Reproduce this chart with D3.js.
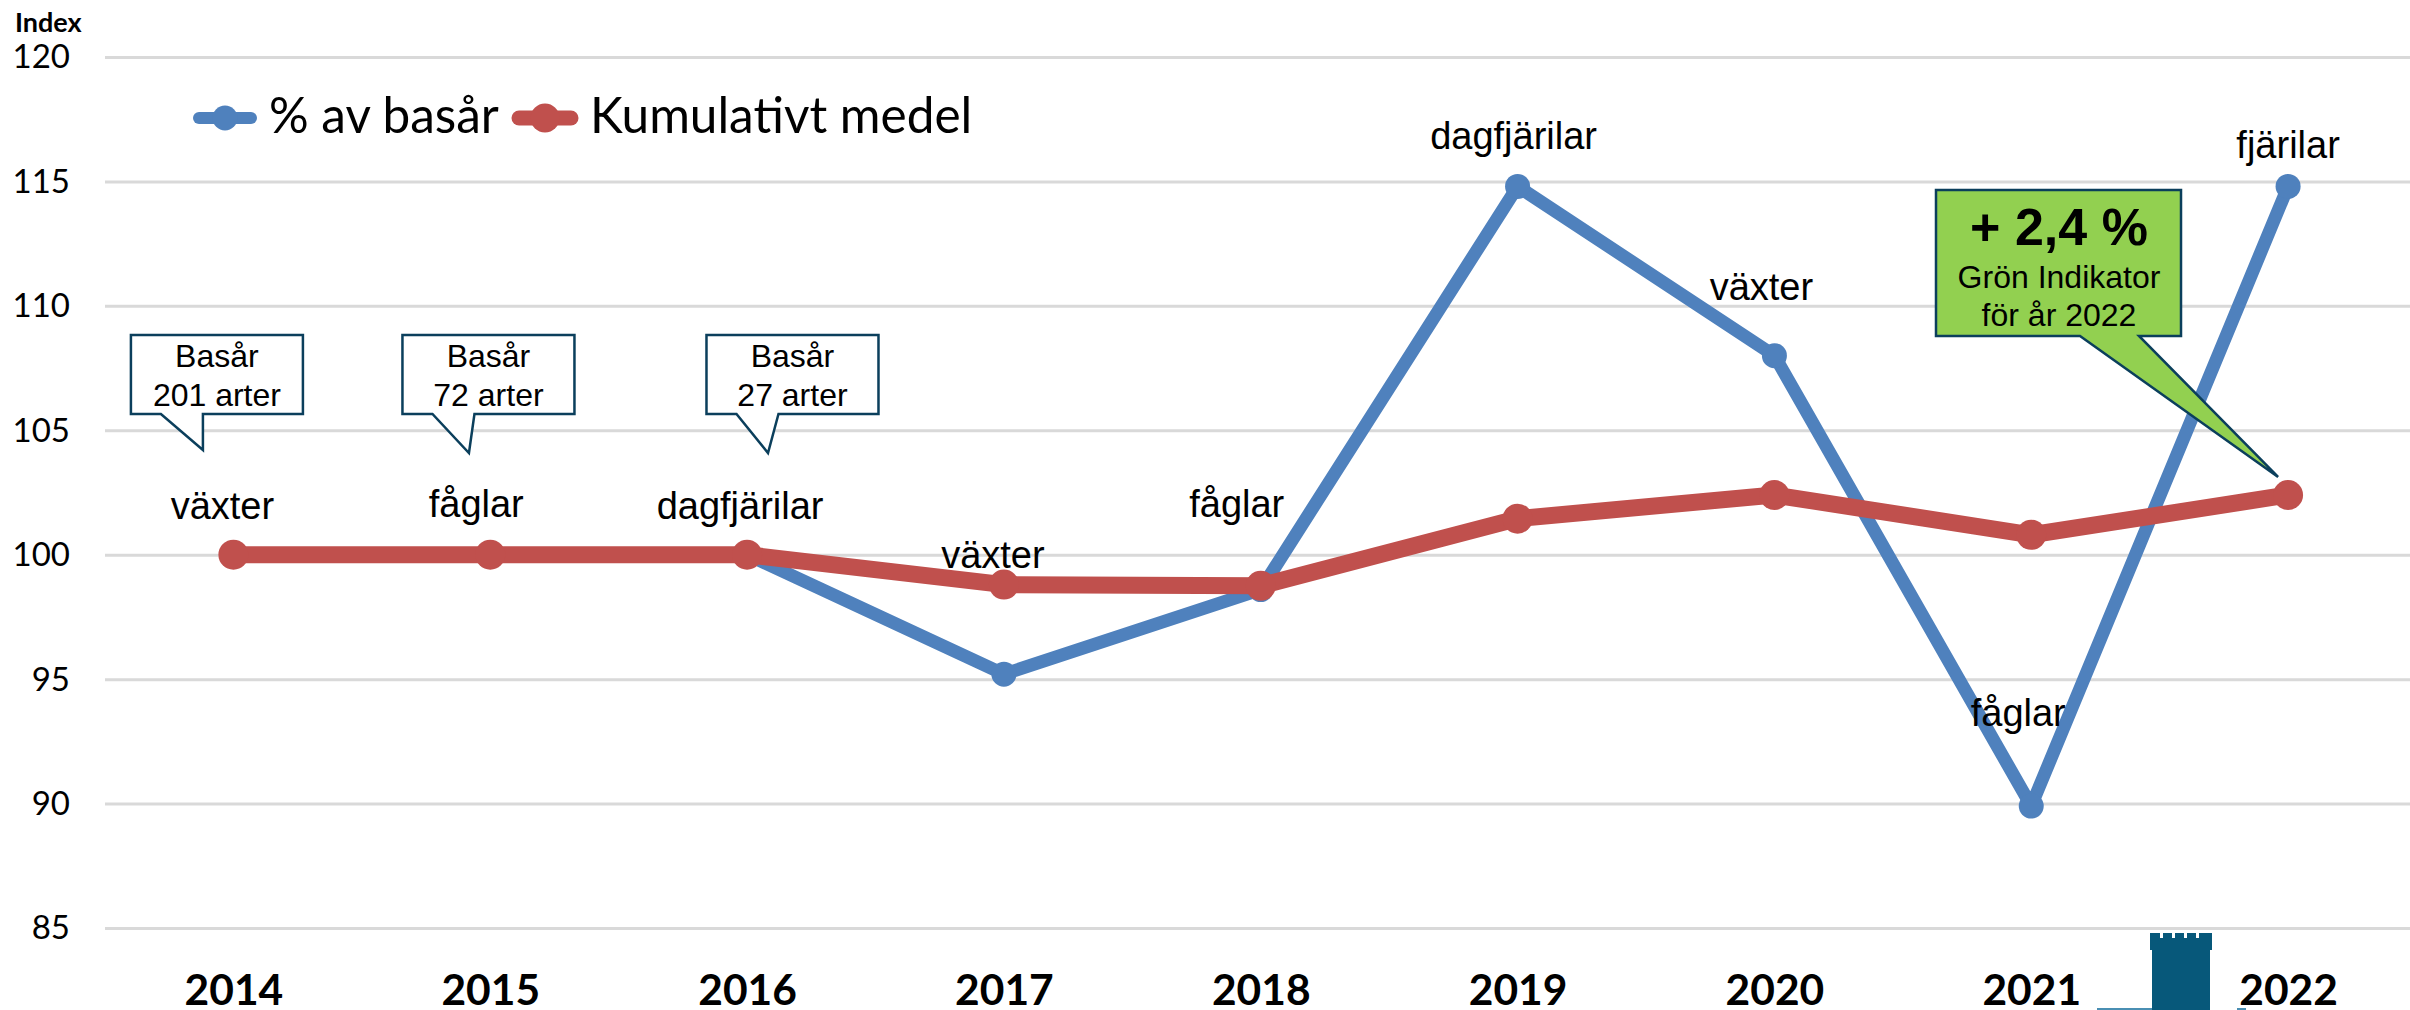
<!DOCTYPE html>
<html lang="sv">
    <head>
        <meta charset="utf-8">
        <title>Grön Indikator</title>
        <script type="text/javascript" src="https://cdn.jsdelivr.net/npm/d3@7"></script>
        <style type="text/css">
          body { margin: 0; background: white; }
          svg { display: block; }

          .yaxis path, .xaxis path, .xaxis line { display: none; }
          .yaxis line { stroke: #d9d9d9; stroke-width: 3; }
          .yaxis text { font-family: Lato, sans-serif; font-size: 33px; fill: black; }
          .xaxis text { font-family: Lato, sans-serif; font-size: 42.5px; font-weight: bold; fill: black; }

          .line { fill: none; stroke-linejoin: round; }
          .label { font-family: "Liberation Sans", sans-serif; font-size: 38px; text-anchor: middle; fill: black; }
          .legend { font-family: Lato, sans-serif; font-size: 49.5px; fill: black; }
          .unit { font-family: Lato, sans-serif; font-size: 27px; font-weight: bold; fill: black; }
          .note { font-family: "Liberation Sans", sans-serif; font-size: 32px; text-anchor: middle; fill: black; }
          .big { font-family: "Liberation Sans", sans-serif; font-size: 52px; font-weight: bold; text-anchor: middle; fill: black; }
        </style>
    </head>
    <body>
        <script type="text/javascript">
            // Data
            var years = ["2014", "2015", "2016", "2017", "2018", "2019", "2020", "2021", "2022"];
            var basar = [100, 100, 100, 95.2, 98.6, 114.8, 108, 89.9, 114.8];
            var medel = [100, 100, 100, 98.8, 98.75, 101.45, 102.4, 100.8, 102.4];
            var groups = ["växter", "fåglar", "dagfjärilar", "växter", "fåglar", "dagfjärilar", "växter", "fåglar", "fjärilar"];
            var yTicks = [85, 90, 95, 100, 105, 110, 115, 120];
            var baseYears = ["2014", "2015", "2016"];
            var baseSpecies = ["201 arter", "72 arter", "27 arter"];

            var w = 2410;
            var h = 1010;
            var blue = "#4f81bd";
            var red = "#c0504d";
            var teal = "#0b3f5c";

            // label offset from its blue point, one per year
            var labelDx = [-11, -14, -7, -11, -24, -4, -13, -13, 0];
            var labelDy = [-36, -38, -36, -106, -73, -37, -56, -80, -28];

            // base year callouts: box centre and tail tip, relative to the year
            var boxDx = [-16.5, -1.8, 45.4];
            var tipDx = [-14, -19.5, -24.5];
            var tipY = [450, 453, 453];

            var svg = d3.select("body").append("svg")
            .attr("width", w)
            .attr("height", h);

            // Scales
            var x = d3.scalePoint()
            .domain(years)
            .range([105, 2416.5])
            .padding(0.5);

            var y = d3.scaleLinear()
            .domain([85, 120])
            .range([928, 57]);

            // Axes
            var yAxis = d3.axisLeft(y)
            .tickValues(yTicks)
            .tickSize(-(w - 105))
            .tickPadding(35);

            var gy = svg.append("g")
            .attr("class", "yaxis")
            .attr("transform", "translate(105,0)")
            .call(yAxis);
            gy.selectAll("text").attr("dy", "0.33em");

            var xAxis = d3.axisBottom(x).tickSize(0).tickPadding(0);

            var gx = svg.append("g")
            .attr("class", "xaxis")
            .attr("transform", "translate(0,1005)")
            .call(xAxis);
            gx.selectAll("text").attr("dy", 0).attr("y", 0);

            svg.append("text")
            .attr("class", "unit")
            .attr("x", 15)
            .attr("y", 32)
            .text("Index");

            // Lines
            var line = d3.line()
            .x(function(d, i) { return x(years[i]); })
            .y(function(d) { return y(d); });

            svg.append("path")
            .datum(basar)
            .attr("class", "line")
            .attr("d", line)
            .style("stroke", blue)
            .style("stroke-width", 13);

            svg.append("g")
            .selectAll("circle")
            .data(basar)
            .enter()
            .append("circle")
            .attr("cx", function(d, i) { return x(years[i]); })
            .attr("cy", function(d) { return y(d); })
            .attr("r", 12.5)
            .style("fill", blue);

            svg.append("path")
            .datum(medel)
            .attr("class", "line")
            .attr("d", line)
            .style("stroke", red)
            .style("stroke-width", 17);

            svg.append("g")
            .selectAll("circle")
            .data(medel)
            .enter()
            .append("circle")
            .attr("cx", function(d, i) { return x(years[i]); })
            .attr("cy", function(d) { return y(d); })
            .attr("r", 15)
            .style("fill", red);

            // Group labels over the points
            svg.append("g")
            .selectAll("text")
            .data(groups)
            .enter()
            .append("text")
            .attr("class", "label")
            .attr("x", function(d, i) { return x(years[i]) + labelDx[i]; })
            .attr("y", function(d, i) { return y(basar[i]) + labelDy[i]; })
            .text(function(d) { return d; });

            // Legend
            var legend = svg.append("g");

            legend.append("line")
            .attr("x1", 199).attr("x2", 251).attr("y1", 118).attr("y2", 118)
            .style("stroke", blue).style("stroke-width", 12).style("stroke-linecap", "round");
            legend.append("circle")
            .attr("cx", 225).attr("cy", 118).attr("r", 12.5)
            .style("fill", blue);
            legend.append("text")
            .attr("class", "legend")
            .attr("x", 269).attr("y", 133)
            .text("% av basår");

            legend.append("line")
            .attr("x1", 519).attr("x2", 571).attr("y1", 118).attr("y2", 118)
            .style("stroke", red).style("stroke-width", 15).style("stroke-linecap", "round");
            legend.append("circle")
            .attr("cx", 545).attr("cy", 118).attr("r", 14.5)
            .style("fill", red);
            legend.append("text")
            .attr("class", "legend")
            .attr("x", 590).attr("y", 133)
            .text("Kumulativt medel");

            // Base year callouts
            baseYears.forEach(function(yr, i) {
              var cx = x(yr) + boxDx[i];
              var top = 335, bottom = 414;
              var pts = [
                [cx - 86, top], [cx + 86, top], [cx + 86, bottom],
                [cx - 14, bottom], [cx + tipDx[i], tipY[i]],
                [cx - 56, bottom], [cx - 86, bottom]
              ];
              svg.append("path")
              .attr("d", d3.line()(pts) + "Z")
              .style("fill", "white")
              .style("stroke", teal)
              .style("stroke-width", 2.5);

              svg.append("text").attr("class", "note").attr("x", cx).attr("y", 367).text("Basår");
              svg.append("text").attr("class", "note").attr("x", cx).attr("y", 406).text(baseSpecies[i]);
            });

            // Green callout pointing at the last red point
            var greenTipX = x("2022") - 10;
            var greenTipY = y(medel[8]) - 18;
            svg.append("path")
            .attr("d", d3.line()([[1936, 190], [2181, 190], [2181, 336], [2139, 336], [greenTipX, greenTipY], [2080, 336], [1936, 336]]) + "Z")
            .style("fill", "#92d050")
            .style("stroke", teal)
            .style("stroke-width", 2.5);

            svg.append("text").attr("class", "big").attr("x", 2059).attr("y", 245).text("+ 2,4 %");
            svg.append("text").attr("class", "note").attr("x", 2059).attr("y", 288).text("Grön Indikator");
            svg.append("text").attr("class", "note").attr("x", 2059).attr("y", 326).text("för år 2022");

            // Tower logo, cut off by the bottom edge
            var logo = svg.append("g").style("fill", "#07587a");
            logo.append("path")
            .attr("d", "M2150,933H2160V938H2163V933H2172V938H2175V933H2184V938H2187V933H2196V938H2199V933H2212V950H2210V1010H2152V950H2150Z");
            logo.append("rect").attr("x", 2097).attr("y", 1008).attr("width", 55).attr("height", 2).style("fill", "#4a8fb3");
            logo.append("rect").attr("x", 2237).attr("y", 1008).attr("width", 9).attr("height", 2).style("fill", "#4a8fb3");
        </script>
    </body>
</html>
